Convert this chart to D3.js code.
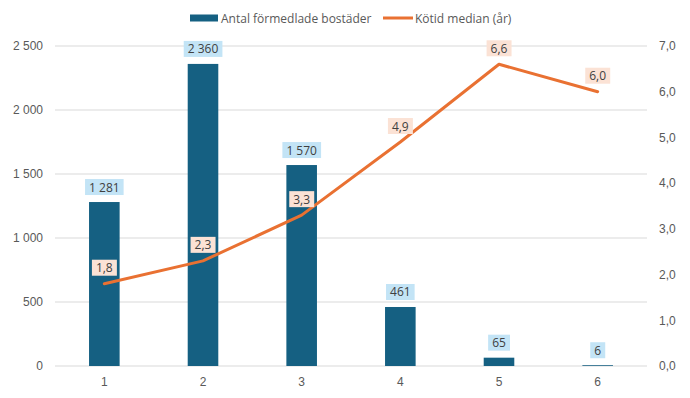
<!DOCTYPE html>
<html>
<head>
<meta charset="utf-8">
<script src="https://cdn.jsdelivr.net/npm/d3@7"></script>
<style>
  html, body { margin: 0; padding: 0; background: #fff; }
  svg { display: block; font-family: "Open Sans", "Noto Sans", sans-serif; }
</style>
</head>
<body>
<svg id="chart" width="690" height="398"></svg>
<script>
// Categories and the two series
const categories = ["1", "2", "3", "4", "5", "6"];
const dwellings = [1281, 2360, 1570, 461, 65, 6];          // Antal förmedlade bostäder
const queueMedian = [1.8, 2.3, 3.3, 4.9, 6.6, 6.0];         // Kötid median (år)
const leftTicks = [0, 500, 1000, 1500, 2000, 2500];
const rightTicks = [0, 1, 2, 3, 4, 5, 6, 7];
const seriesNames = ["Antal förmedlade bostäder", "Kötid median (år)"];

const barColor = "#156082";
const lineColor = "#e97132";
const barLabelFill = "#c3e4f6";
const lineLabelFill = "#fbe2d5";
const textColor = "#595959";

const svg = d3.select("#chart");
const margin = { left: 55, right: 43, top: 46, bottom: 32 };
const W = 690, H = 398;
const plotL = margin.left, plotR = W - margin.right;
const plotT = margin.top, plotB = H - margin.bottom;

const x = d3.scaleBand().domain(categories).range([plotL, plotR]).paddingInner(0.69).paddingOuter(0.345);
const yL = d3.scaleLinear().domain([0, 2500]).range([plotB, plotT]);
const yR = d3.scaleLinear().domain([0, 7]).range([plotB, plotT]);

const fmtInt = v => d3.format(",")(v).replace(/,/g, "\u2009").replace(/\u2009/g, " ");
const fmtDec = v => d3.format(".1f")(v).replace(".", ",");

// Gridlines
svg.append("g").selectAll("line").data(leftTicks).join("line")
  .attr("x1", plotL).attr("x2", plotR)
  .attr("y1", d => yL(d)).attr("y2", d => yL(d))
  .attr("stroke", "#d9d9d9").attr("stroke-width", 1);

// Left axis
const axL = svg.append("g").attr("transform", `translate(${plotL},0)`)
  .call(d3.axisLeft(yL).tickValues(leftTicks).tickSize(0).tickPadding(12).tickFormat(fmtInt));
axL.select(".domain").remove();
axL.selectAll("text").attr("fill", textColor).style("font-size", "12px");

// Right axis
const axR = svg.append("g").attr("transform", `translate(${plotR},0)`)
  .call(d3.axisRight(yR).tickValues(rightTicks).tickSize(0).tickPadding(12).tickFormat(fmtDec));
axR.select(".domain").remove();
axR.selectAll("text").attr("fill", textColor).style("font-size", "12px");

// Bottom axis
const axB = svg.append("g").attr("transform", `translate(0,${plotB})`)
  .call(d3.axisBottom(x).tickSize(0).tickPadding(11));
axB.select(".domain").remove();
axB.selectAll("text").attr("fill", textColor).style("font-size", "12px");

// Bars
svg.append("g").selectAll("rect").data(dwellings).join("rect")
  .attr("x", (d, i) => x(categories[i]))
  .attr("width", x.bandwidth())
  .attr("y", d => yL(d))
  .attr("height", d => plotB - yL(d))
  .attr("fill", barColor);

// Line
const line = d3.line()
  .x((d, i) => x(categories[i]) + x.bandwidth() / 2)
  .y(d => yR(d));
svg.append("path").datum(queueMedian)
  .attr("d", line)
  .attr("fill", "none")
  .attr("stroke", lineColor)
  .attr("stroke-width", 3)
  .attr("stroke-linejoin", "round")
  .attr("stroke-linecap", "round");

// Labels with background boxes
function boxedLabel(g, cx, cy, text, fill) {
  const t = g.append("text")
    .attr("x", cx).attr("y", cy)
    .attr("text-anchor", "middle")
    .attr("dominant-baseline", "central")
    .attr("fill", "#404040")
    .style("font-size", "12px")
    .text(text);
  const bb = t.node().getBBox();
  g.insert("rect", "text")
    .attr("x", bb.x - 4).attr("y", cy - 8)
    .attr("width", bb.width + 8).attr("height", 16)
    .attr("fill", fill);
}

const barLabels = svg.append("g");
dwellings.forEach((d, i) => {
  const g = barLabels.append("g");
  boxedLabel(g, x(categories[i]) + x.bandwidth() / 2, yL(d) - 15, fmtInt(d), barLabelFill);
});

const lineLabels = svg.append("g");
queueMedian.forEach((d, i) => {
  const g = lineLabels.append("g");
  boxedLabel(g, x(categories[i]) + x.bandwidth() / 2, yR(d) - 16, fmtDec(d), lineLabelFill);
});

// Legend
const legend = svg.append("g").attr("transform", "translate(0,18)");
legend.append("rect").attr("x", 190).attr("y", -3.5).attr("width", 28).attr("height", 7).attr("fill", barColor);
legend.append("text").attr("x", 221).attr("y", 0).attr("dominant-baseline", "central")
  .attr("fill", textColor).style("font-size", "12px").text(seriesNames[0]);
legend.append("line").attr("x1", 383).attr("x2", 413).attr("y1", 0).attr("y2", 0)
  .attr("stroke", lineColor).attr("stroke-width", 3);
legend.append("text").attr("x", 415).attr("y", 0).attr("dominant-baseline", "central")
  .attr("fill", textColor).style("font-size", "12px").text(seriesNames[1]);
</script>
</body>
</html>
